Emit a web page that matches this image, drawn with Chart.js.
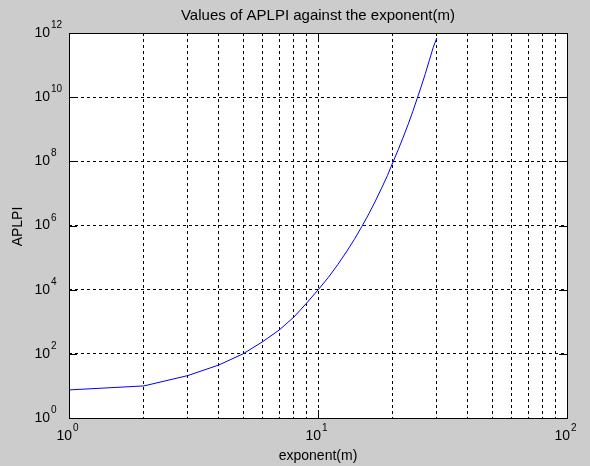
<!DOCTYPE html>
<html>
<head>
<meta charset="utf-8">
<script src="https://cdn.jsdelivr.net/npm/chart.js@4/dist/chart.umd.min.js"></script>
<style>
  html, body { margin: 0; padding: 0; background: #cccccc; }
  canvas { display: block; }
</style>
</head>
<body>
<canvas id="aplpiChart" width="590" height="466"></canvas>
<script>
// exponent m and the APLPI values
const exponents = [1, 2, 3, 4, 5, 6, 7, 8, 9, 10,
  11, 12, 13, 14, 15, 16, 17, 18, 19, 20,
  21, 22, 23, 24, 25, 26, 27, 28, 29, 30];
const aplpi = [7.5, 10, 21, 45, 100, 240, 560, 1400, 3800, 9800,
  2.4e4, 6e4, 1.5e5, 3.7e5, 9.3e5, 2.3e6, 5.8e6, 1.45e7, 3.6e7, 9.5e7,
  2.3e8, 5.7e8, 1.4e9, 3.5e9, 8.9e9, 2.2e10, 5.5e10, 1.4e11, 3.5e11, 7e11];

// grid / tick positions
const xGrid = [1, 2, 3, 4, 5, 6, 7, 8, 9, 10, 20, 30, 40, 50, 60, 70, 80, 90, 100];
const xMajor = [1, 10, 100];
const yGrid = [1, 1e2, 1e4, 1e6, 1e8, 1e10, 1e12];

const titleText = 'Values of APLPI against the exponent(m)';
const xTitle = 'exponent(m)';
const yTitle = 'APLPI';

const FONT = '"Liberation Sans", Arial, sans-serif';

// "10" with a raised exponent, base right edge at baseRight
function drawPower(ctx, value, baseRight, y) {
  const exp = String(Math.round(Math.log10(value)));
  ctx.textBaseline = 'middle';
  ctx.textAlign = 'right';
  ctx.font = '14px ' + FONT;
  ctx.fillText('10', baseRight, y);
  ctx.textAlign = 'left';
  ctx.textBaseline = 'alphabetic';
  ctx.font = '10px ' + FONT;
  ctx.fillText(exp, baseRight + 1, y - 5);
}

const matlabAxes = {
  id: 'matlabAxes',
  beforeDraw(chart) {
    const a = chart.chartArea;
    const ctx = chart.ctx;
    ctx.save();
    ctx.fillStyle = '#ffffff';
    ctx.fillRect(a.left, a.top, a.right - a.left, a.bottom - a.top);
    ctx.restore();
  },
  afterDraw(chart) {
    const a = chart.chartArea;
    const ctx = chart.ctx;
    const xs = chart.scales.x;
    const ys = chart.scales.y;
    ctx.save();
    ctx.strokeStyle = '#000';
    ctx.lineWidth = 1;
    ctx.setLineDash([]);
    ctx.strokeRect(Math.round(a.left) + 0.5, Math.round(a.top) + 0.5,
      Math.round(a.right - a.left), Math.round(a.bottom - a.top));

    // inner tick marks
    ctx.beginPath();
    xMajor.forEach(v => {
      const px = Math.round(xs.getPixelForValue(v)) + 0.5;
      ctx.moveTo(px, a.bottom); ctx.lineTo(px, a.bottom - 8);
      ctx.moveTo(px, a.top); ctx.lineTo(px, a.top + 8);
    });
    yGrid.forEach(v => {
      const py = Math.round(ys.getPixelForValue(v)) + 0.5;
      ctx.moveTo(a.left, py); ctx.lineTo(a.left + 8, py);
      ctx.moveTo(a.right, py); ctx.lineTo(a.right - 8, py);
    });
    ctx.stroke();

    ctx.fillStyle = '#000';
    xMajor.forEach(v => drawPower(ctx, v, xs.getPixelForValue(v) + 3, a.bottom + 18));
    yGrid.forEach(v => drawPower(ctx, v, a.left - 19, ys.getPixelForValue(v)));

    const cx = (a.left + a.right) / 2;
    ctx.textAlign = 'center';
    ctx.textBaseline = 'middle';
    ctx.font = '15px ' + FONT;
    ctx.fillText(titleText, cx, 15.5);
    ctx.font = '14px ' + FONT;
    ctx.fillText(xTitle, cx, 456);
    ctx.translate(18, (a.top + a.bottom) / 2 + 1);
    ctx.rotate(-Math.PI / 2);
    ctx.fillText(yTitle, 0, 0);
    ctx.restore();
  }
};

const points = exponents.map((m, i) => ({ x: m, y: aplpi[i] }));

new Chart(document.getElementById('aplpiChart').getContext('2d'), {
  type: 'line',
  data: {
    datasets: [{
      label: 'APLPI',
      data: points,
      borderColor: '#0000ff',
      borderWidth: 1,
      pointRadius: 0,
      tension: 0,
      fill: false
    }]
  },
  options: {
    responsive: false,
    animation: false,
    devicePixelRatio: 1,
    layout: { padding: { left: 69, right: 23, top: 33, bottom: 48 } },
    plugins: { legend: { display: false }, title: { display: false }, tooltip: { enabled: false } },
    scales: {
      x: {
        type: 'logarithmic',
        min: 1,
        max: 100,
        afterBuildTicks: (scale) => { scale.ticks = xGrid.map(v => ({ value: v })); },
        ticks: { display: false },
        grid: { color: '#000', lineWidth: 1, drawTicks: false },
        border: { display: false, dash: [3, 3] }
      },
      y: {
        type: 'logarithmic',
        min: 1,
        max: 1e12,
        afterBuildTicks: (scale) => { scale.ticks = yGrid.map(v => ({ value: v })); },
        ticks: { display: false },
        grid: { color: '#000', lineWidth: 1, drawTicks: false },
        border: { display: false, dash: [3, 3] }
      }
    }
  },
  plugins: [matlabAxes]
});
</script>
</body>
</html>
